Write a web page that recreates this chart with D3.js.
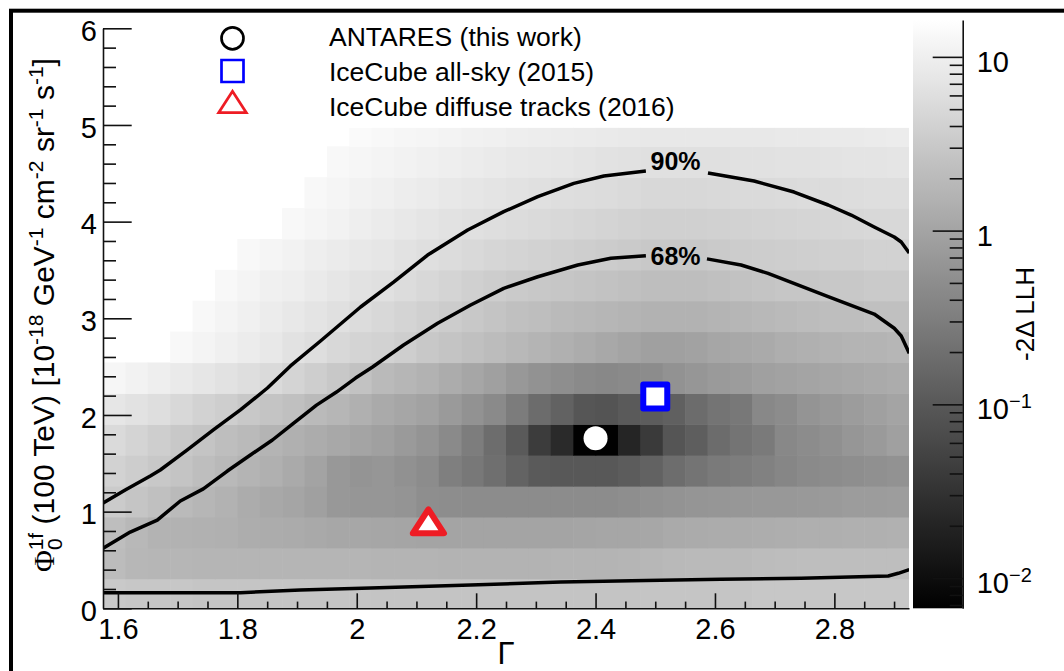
<!DOCTYPE html>
<html>
<head>
<meta charset="utf-8">
<script src="https://cdn.jsdelivr.net/npm/d3@7/dist/d3.min.js"></script>
<style>
  html, body { margin: 0; padding: 0; background: #fff; }
  svg { display: block; }
  text { font-family: "Liberation Sans", Arial, Helvetica, sans-serif; fill: #000; }
</style>
</head>
<body>
<svg id="chart" width="1064" height="671"></svg>
<script>
// Bin edges of the likelihood scan
const gammaEdges = [1.575, 1.6125, 1.65, 1.6875, 1.725, 1.7625, 1.8, 1.8375, 1.875, 1.9125,
  1.95, 1.9875, 2.025, 2.0625, 2.1, 2.1375, 2.175, 2.2125, 2.25, 2.2875, 2.325, 2.3625,
  2.4, 2.4375, 2.475, 2.5125, 2.55, 2.5875, 2.625, 2.6625, 2.7, 2.7375, 2.775, 2.8125,
  2.85, 2.8875, 2.925];
const phiEdges = [0, 0.307, 0.626, 0.946, 1.265, 1.585, 1.904, 2.224, 2.543, 2.863,
  3.182, 3.501, 3.821, 4.140, 4.460, 4.779, 4.970];

// -2 Delta LLH per bin; first row is the lowest flux bin, null = above scale (not filled)
const _ = null;
const llhRows = [
  [3.1,2.9,2.9,2.9,2.8,2.8,2.8,2.8,2.8,2.8,2.8,2.8,2.7,2.7,2.7,2.7,2.7,2.7,2.7,2.7,2.7,2.7,2.7,2.7,2.8,2.8,2.8,2.8,2.8,2.9,2.9,2.9,2.9,2.9,2.9,2.9],
  [2.1,1.8,1.75,1.73,1.72,1.72,1.7,1.7,1.7,1.7,1.7,1.68,1.66,1.64,1.63,1.62,1.62,1.62,1.62,1.62,1.63,1.64,1.66,1.7,1.8,1.9,1.95,2.0,2.0,2.1,2.15,2.2,2.2,2.2,2.2,2.2],
  [2.2,1.85,1.6,1.55,1.5,1.45,1.32,1.28,1.24,1.16,1.12,1.1,1.06,1.04,1.02,1.0,1.0,1.0,1.0,1.0,1.02,1.04,1.06,1.08,1.12,1.2,1.26,1.28,1.3,1.32,1.36,1.4,1.42,1.44,1.46,1.5],
  [3.3,2.8,2.35,1.96,1.73,1.53,1.28,1.13,1.03,0.9,0.7,0.66,0.66,0.62,0.52,0.5,0.48,0.48,0.48,0.48,0.48,0.48,0.49,0.51,0.56,0.6,0.63,0.65,0.67,0.69,0.7,0.72,0.75,0.78,0.8,0.82],
  [4.07,3.5,3.0,2.66,2.21,1.9,1.63,1.44,1.2,0.97,0.69,0.61,0.65,0.56,0.48,0.33,0.26,0.2,0.14,0.105,0.098,0.098,0.098,0.111,0.133,0.19,0.23,0.28,0.31,0.35,0.4,0.45,0.48,0.51,0.54,0.58],
  [5.2,4.33,3.61,3.0,2.66,2.21,1.96,1.63,1.44,1.28,1.13,1.0,0.885,0.74,0.61,0.45,0.31,0.19,0.105,0.042,0.024,0.007,0.007,0.021,0.039,0.09,0.118,0.18,0.23,0.28,0.43,0.48,0.54,0.65,0.74,0.885],
  [7.5,6.63,5.87,4.89,4.07,3.61,3.0,2.66,2.35,1.96,1.73,1.44,1.2,1.06,0.94,0.74,0.58,0.45,0.3,0.18,0.133,0.093,0.087,0.105,0.111,0.126,0.18,0.23,0.26,0.43,0.48,0.61,0.69,0.78,0.885,1.0],
  [12.2,10.8,9.57,8.47,7.5,6.63,5.87,5.2,4.33,3.61,3.0,2.5,1.96,1.73,1.53,1.28,1.06,0.885,0.69,0.58,0.51,0.45,0.43,0.45,0.48,0.58,0.65,0.74,0.78,0.885,0.94,1.0,1.06,1.13,1.2,1.28],
  [_,_,_,13.0,11.5,10.2,9.0,7.97,6.63,5.87,4.89,4.33,4.07,3.61,3.0,2.66,2.35,2.08,1.84,1.63,1.44,1.28,1.13,1.0,0.885,0.885,0.94,1.06,1.13,1.2,1.36,1.44,1.53,1.63,1.63,1.73],
  [_,_,_,_,13.0,11.5,10.2,9.0,7.97,7.05,6.24,5.53,4.89,4.33,3.83,3.39,3.0,2.66,2.35,2.21,1.96,1.84,1.73,1.63,1.53,1.53,1.53,1.63,1.73,1.84,1.96,2.08,2.21,2.21,2.35,2.35],
  [_,_,_,_,_,13.0,11.5,10.2,9.57,8.47,7.5,6.63,6.24,5.53,4.89,4.33,3.83,3.5,3.19,3.0,2.82,2.66,2.5,2.35,2.21,2.21,2.21,2.35,2.5,2.66,2.82,2.82,3.0,3.0,3.19,3.19],
  [_,_,_,_,_,_,13.0,11.85,10.8,9.57,8.73,7.97,7.5,6.63,6.05,5.53,5.04,4.6,4.33,4.07,3.83,3.61,3.39,3.19,3.0,3.0,3.0,3.19,3.39,3.5,3.61,3.72,3.83,3.83,4.07,4.07],
  [_,_,_,_,_,_,_,_,13.0,11.85,10.8,9.57,8.73,7.97,7.27,6.63,6.24,5.87,5.53,5.2,4.89,4.6,4.33,4.07,3.83,3.83,3.83,3.95,4.07,4.2,4.33,4.46,4.6,4.74,4.89,4.89],
  [_,_,_,_,_,_,_,_,_,13.0,11.85,10.8,10.2,9.28,8.73,7.97,7.5,7.05,6.63,6.24,5.87,5.69,5.53,5.2,4.89,4.89,4.89,5.04,5.2,5.2,5.36,5.53,5.53,5.69,5.87,5.87],
  [_,_,_,_,_,_,_,_,_,_,13.0,12.2,11.5,10.8,10.2,9.57,9.0,8.47,7.97,7.73,7.5,7.05,6.63,6.44,6.24,6.24,6.24,6.24,6.44,6.44,6.63,6.63,6.84,7.05,7.05,7.27],
  [_,_,_,_,_,_,_,_,_,_,_,13.8,13.0,12.2,11.85,11.15,10.5,10.2,9.57,9.28,9.0,8.73,8.47,8.21,7.97,7.97,7.97,7.97,7.97,7.97,8.21,8.21,8.47,8.47,8.73,9.0]
];

// Confidence contours as [gamma, phi]; null marks the break under the level label
const contour90 = [[1.5753,1.089],[1.6122,1.224],[1.6542,1.369],[1.6709,1.431],[1.7162,1.638],
  [1.7598,1.845],[1.8051,2.052],[1.8504,2.279],[1.8890,2.507],[1.9393,2.765],[2.0064,3.117],
  [2.0617,3.375],[2.1187,3.654],[2.1858,3.913],[2.2462,4.103],[2.3032,4.258],[2.3636,4.396],
  [2.4139,4.472],[2.4843,4.524], null, [2.5883,4.503],[2.6655,4.420],[2.7325,4.306],
  [2.7896,4.172],[2.8281,4.068],[2.8667,3.944],[2.9003,3.841],[2.9120,3.789],[2.9254,3.676]];
const contour68 = [[1.5753,0.621],[1.6206,0.789],[1.6659,0.913],[1.7045,1.110],[1.7430,1.235],
  [1.7833,1.420],[1.8219,1.586],[1.8588,1.741],[1.8923,1.906],[1.9326,2.102],[1.9661,2.237],
  [1.9980,2.382],[2.0265,2.496],[2.0785,2.724],[2.1355,2.948],[2.1908,3.137],[2.2462,3.310],
  [2.3032,3.430],[2.3703,3.551],[2.4256,3.621],[2.4843,3.647], null, [2.5866,3.615],
  [2.6437,3.551],[2.6889,3.465],[2.7896,3.223],[2.8667,3.044],[2.9003,2.897],[2.9120,2.817],
  [2.9254,2.638]];
const contourLower = [[1.5753,0.161],[1.8051,0.161],[1.9057,0.189],[2.0231,0.210],[2.1908,0.241],
  [2.3418,0.272],[2.4843,0.288],[2.6101,0.300],[2.7443,0.310],[2.8902,0.334],[2.9070,0.362],
  [2.9254,0.401]];

const contourLabels = ["90%", "68%"];
const contourLabelGamma = [2.534, 2.534];
const contourLabelPhi = [4.53, 3.55];

// Best-fit points
const markerNames = ["ANTARES (this work)", "IceCube all-sky (2015)", "IceCube diffuse tracks (2016)"];
const markerShapes = ["circle", "square", "triangle"];
const markerGamma = [2.40, 2.50, 2.12];
const markerPhi = [1.76, 2.19, 0.90];
const markerColors = ["#000000", "#0000ff", "#ee1c24"];

const xTicks = [1.6, 1.8, 2.0, 2.2, 2.4, 2.6, 2.8];
const yTicks = [0, 1, 2, 3, 4, 5, 6];
const cbMajorTicks = [0.01, 0.1, 1, 10];
const cbLabels = [["10", "\u22122"], ["10", "\u22121"], ["1", ""], ["10", ""]];

const svg = d3.select("#chart");
const plot = { left: 103, right: 909, top: 28.3, bottom: 608.3 };
const cb = { left: 913, right: 962.7, top: 20, bottom: 608.3 };

const x = d3.scaleLinear().domain([gammaEdges[0], gammaEdges[gammaEdges.length - 1]]).range([plot.left, plot.right]);
const y = d3.scaleLinear().domain([0, 6]).range([plot.bottom, plot.top]);
const shade = d3.scaleLog().domain([0.0067, 16.3]).range([0, 255]).clamp(true);
const grey = v => { const g = Math.round(shade(v)); return `rgb(${g},${g},${g})`; };

// outer frame
svg.append("rect").attr("x", 11).attr("y", 10.7).attr("width", 1200).attr("height", 800)
  .attr("fill", "none").attr("stroke", "#000").attr("stroke-width", 4);

svg.append("clipPath").attr("id", "plotclip").append("rect")
  .attr("x", plot.left).attr("y", plot.top).attr("width", plot.right - plot.left).attr("height", plot.bottom - plot.top);

// heat map
const cells = [];
llhRows.forEach((row, j) => row.forEach((v, i) => { if (v !== null) cells.push({ i, j, v }); }));
svg.append("g").attr("clip-path", "url(#plotclip)")
  .selectAll("rect").data(cells).join("rect")
  .attr("x", d => x(gammaEdges[d.i]))
  .attr("y", d => y(phiEdges[d.j + 1]))
  .attr("width", d => x(gammaEdges[d.i + 1]) - x(gammaEdges[d.i]) + 0.6)
  .attr("height", d => y(phiEdges[d.j]) - y(phiEdges[d.j + 1]) + 0.6)
  .attr("fill", d => grey(d.v));

// contours
const line = d3.line().defined(d => d !== null).x(d => x(d[0])).y(d => y(d[1]));
const cg = svg.append("g").attr("clip-path", "url(#plotclip)");
[contour90, contour68, contourLower].forEach(c => {
  cg.append("path").attr("d", line(c)).attr("fill", "none").attr("stroke", "#000")
    .attr("stroke-width", 3.5).attr("stroke-linejoin", "round");
});
contourLabels.forEach((t, k) => {
  svg.append("text").attr("x", x(contourLabelGamma[k])).attr("y", y(contourLabelPhi[k]))
    .attr("text-anchor", "middle").attr("font-weight", "bold").attr("font-size", 25).text(t);
});

// marker shapes
function shapePath(shape, cx, cy, s) {
  if (shape === "square") return `M${cx - s / 2},${cy - s / 2}h${s}v${s}h${-s}Z`;
  if (shape === "triangle") {
    const w = s * 1.3, h = s;
    return `M${cx},${cy - h / 2}L${cx + w / 2},${cy + h / 2}L${cx - w / 2},${cy + h / 2}Z`;
  }
  return null;
}

// best-fit markers in the plot
markerShapes.forEach((shape, k) => {
  const cx = x(markerGamma[k]), cy = y(markerPhi[k]);
  if (shape === "circle") {
    svg.append("circle").attr("cx", cx).attr("cy", cy).attr("r", 12).attr("fill", "#fff");
  } else {
    svg.append("path").attr("d", shapePath(shape, cx, cy, 24)).attr("fill", "#fff")
      .attr("stroke", markerColors[k]).attr("stroke-width", 6).attr("stroke-linejoin", "round");
  }
});

// legend
const legendY = [38.3, 71, 102];
const legendTextY = [46, 81, 116];
markerShapes.forEach((shape, k) => {
  const cx = 232.5, cy = legendY[k];
  if (shape === "circle") {
    svg.append("circle").attr("cx", cx).attr("cy", cy).attr("r", 11).attr("fill", "none")
      .attr("stroke", markerColors[k]).attr("stroke-width", 2.7);
  } else {
    const s = shape === "square" ? 22 : 21.3;
    svg.append("path").attr("d", shapePath(shape, cx, cy, s)).attr("fill", "#fff")
      .attr("stroke", markerColors[k]).attr("stroke-width", 2.7).attr("stroke-linejoin", "miter");
  }
  svg.append("text").attr("x", 329).attr("y", legendTextY[k]).attr("font-size", 26.5).text(markerNames[k]);
});

// axes
function styleAxis(g) {
  g.selectAll("path, line").attr("stroke", "#111").attr("stroke-width", 1.6);
  g.selectAll("text").attr("fill", "#000").attr("font-family", "'Liberation Sans', Arial, sans-serif");
}
const fmt = d => String(+d.toFixed(1));

const xMinor = d3.range(1.6, 2.92, 0.05).filter(v => !xTicks.some(t => Math.abs(t - v) < 1e-6));
svg.append("g").attr("transform", `translate(0,${plot.bottom})`)
  .call(d3.axisBottom(x).tickValues(xMinor).tickSize(-6.7).tickSizeOuter(0).tickFormat(""))
  .call(g => g.select(".domain").remove()).call(styleAxis);
svg.append("g").attr("transform", `translate(0,${plot.bottom})`)
  .call(d3.axisBottom(x).tickValues(xTicks).tickSize(-15).tickSizeOuter(0).tickPadding(10).tickFormat(fmt))
  .call(styleAxis)
  .call(g => g.selectAll("text").attr("font-size", 29));

const yMinor = d3.range(0, 6.01, 0.2).filter(v => !yTicks.some(t => Math.abs(t - v) < 1e-6));
svg.append("g").attr("transform", `translate(${plot.left},0)`)
  .call(d3.axisLeft(y).tickValues(yMinor).tickSize(-13).tickSizeOuter(0).tickFormat(""))
  .call(g => g.select(".domain").remove()).call(styleAxis);
svg.append("g").attr("transform", `translate(${plot.left},0)`)
  .call(d3.axisLeft(y).tickValues(yTicks).tickSize(-28.7).tickSizeOuter(0).tickPadding(6).tickFormat(d3.format("d")))
  .call(styleAxis)
  .call(g => g.selectAll("text").attr("font-size", 29).attr("dy", "0.42em"));

// axis titles
svg.append("text").attr("x", (plot.left + plot.right) / 2).attr("y", 664)
  .attr("text-anchor", "middle").attr("font-family", "'Liberation Serif', 'Times New Roman', serif")
  .attr("font-size", 31).text("\u0393");

const yTitle = svg.append("text").attr("transform", "translate(54,315) rotate(-90)")
  .attr("text-anchor", "middle").attr("font-size", 30);
const ySpans = [
  { t: "\u03A6", serif: true },
  { t: "0", size: 21, dy: 8 },
  { t: "1f", size: 21, dx: -12, dy: -19 },
  { t: " (100 TeV) [10", dy: 11 },
  { t: "-18", size: 21, dy: -11 },
  { t: " GeV", dy: 11 },
  { t: "-1", size: 21, dy: -11 },
  { t: " cm", dy: 11 },
  { t: "-2", size: 21, dy: -11 },
  { t: " sr", dy: 11 },
  { t: "-1", size: 21, dy: -11 },
  { t: " s", dy: 11 },
  { t: "-1", size: 21, dy: -11 },
  { t: "]", dy: 11 }
];
ySpans.forEach(s => {
  const ts = yTitle.append("tspan").text(s.t);
  if (s.serif) ts.attr("font-family", "'Liberation Serif', serif");
  if (s.size) ts.attr("font-size", s.size);
  if (s.dx) ts.attr("dx", s.dx);
  if (s.dy) ts.attr("dy", s.dy);
});

// colour bar
const cbScale = d3.scaleLog().domain([0.0067, 16.3]).range([cb.bottom, cb.top]);
const grad = svg.append("defs").append("linearGradient").attr("id", "cbgrad")
  .attr("x1", 0).attr("y1", 1).attr("x2", 0).attr("y2", 0);
d3.range(0, 1.0001, 0.05).forEach(f => {
  const v = Math.pow(10, Math.log10(0.0067) + f * (Math.log10(16.3) - Math.log10(0.0067)));
  grad.append("stop").attr("offset", f).attr("stop-color", grey(v));
});
svg.append("rect").attr("x", cb.left).attr("y", cb.top).attr("width", cb.right - cb.left)
  .attr("height", cb.bottom - cb.top).attr("fill", "url(#cbgrad)");

const cbMinor = [];
[0.001, 0.01, 0.1, 1, 10].forEach(p => [2, 3, 4, 5, 6, 7, 8, 9].forEach(m => {
  const v = m * p; if (v >= 0.0067 && v <= 16.3) cbMinor.push(v);
}));
svg.append("g").attr("transform", `translate(${cb.right},0)`)
  .call(d3.axisRight(cbScale).tickValues(cbMinor).tickSize(-13).tickSizeOuter(0).tickFormat(""))
  .call(g => g.select(".domain").remove()).call(styleAxis);
const cbAxis = svg.append("g").attr("transform", `translate(${cb.right},0)`)
  .call(d3.axisRight(cbScale).tickValues(cbMajorTicks).tickSize(-30).tickSizeOuter(0).tickPadding(14).tickFormat(""))
  .call(styleAxis);
cbAxis.selectAll(".tick text").each(function (d, i) {
  const t = d3.select(this).attr("font-size", 29).attr("dy", "0.5em");
  t.append("tspan").text(cbLabels[i][0]);
  if (cbLabels[i][1]) t.append("tspan").attr("font-size", 20).attr("dy", -11).text(cbLabels[i][1]);
});

svg.append("text").attr("transform", "translate(1034,314) rotate(-90)")
  .attr("text-anchor", "middle").attr("font-size", 26).text("-2\u0394 LLH");
</script>
</body>
</html>
